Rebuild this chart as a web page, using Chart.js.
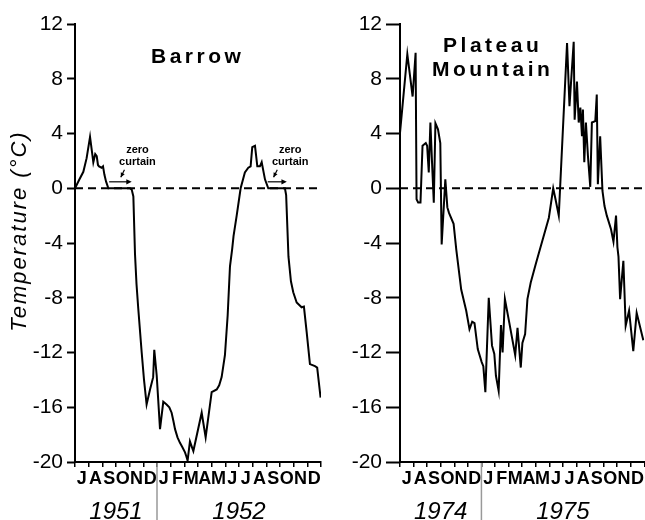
<!DOCTYPE html>
<html>
<head>
<meta charset="utf-8">
<script src="https://cdn.jsdelivr.net/npm/chart.js@4/dist/chart.umd.min.js"></script>
<style>
  body { margin: 0; background: #fff; }
  #wrap { position: relative; width: 645px; height: 520px; }
  .panel { position: absolute; top: 0; height: 520px; }
  #left { left: 0; width: 330px; }
  #right { left: 330px; width: 315px; }
</style>
</head>
<body>
<div id="wrap">
  <div class="panel" id="left"><canvas id="barrow"></canvas></div>
  <div class="panel" id="right"><canvas id="plateau"></canvas></div>
</div>
<script>
// months along the bottom, July of year one to December of year two
const months = ['J','A','S','O','N','D','J','F','M','A','M','J','J','A','S','O','N','D'];
const yTicks = [-20, -16, -12, -8, -4, 0, 4, 8, 12];
const barrowYears = ['1951', '1952'];
const plateauYears = ['1974', '1975'];

// x = months since 1 July of the first year, temperature in °C
const barrowX = [0, 0.3, 0.61, 0.85, 1.1, 1.25, 1.34, 1.48, 1.59, 1.68, 1.76, 1.95, 2.05, 2.15, 2.27, 2.44,
  4.02, 4.15, 4.27, 4.39, 4.5, 4.63, 4.88, 5.05, 5.24, 5.49, 5.72, 5.8, 5.98, 6.22, 6.46, 6.7, 6.9, 7.07,
  7.2, 7.32, 7.5, 7.68, 7.85, 8.05, 8.15, 8.24, 8.41, 8.55, 8.66, 9.27, 9.56, 10.0, 10.37, 10.55, 10.73,
  10.97, 11.17, 11.34, 11.5, 11.6, 11.83, 12.12, 12.43, 12.68, 12.85, 12.97, 13.17, 13.25, 13.34, 13.53,
  13.66, 13.9, 14.14, 15.36, 15.45, 15.62, 15.8, 15.97, 16.22, 16.58, 16.75, 16.95, 17.19, 17.56, 17.72, 17.97];
const barrowT = [0, 0.6, 1.2, 2.2, 3.75, 2.6, 1.9, 2.5, 2.35, 1.7, 1.6, 1.5, 1.6, 1.0, 0.5, 0,
  0, -0.1, -0.6, -4.8, -7, -8.8, -12, -14, -15.8, -14.7, -13.8, -11.8, -13.7, -17.6, -15.6, -15.8, -16.0, -16.4,
  -17.0, -17.6, -18.2, -18.6, -18.9, -19.3, -19.6, -19.9, -18.5, -18.9, -19.2, -16.4, -18.2, -14.9, -14.7, -14.4, -13.8,
  -12.2, -9.3, -5.7, -4.45, -3.5, -2.0, 0, 1.15, 1.5, 1.6, 3.0, 3.1, 2.4, 1.6, 1.6,
  1.9, 0.65, 0, 0, -0.5, -5, -6.8, -7.6, -8.35, -8.7, -8.65, -10.5, -12.85, -13.0, -13.1, -15.3];

const plateauX = [0, 0.54, 0.93, 1.15, 1.22, 1.34, 1.51, 1.66, 1.9, 2.0, 2.12, 2.24, 2.36, 2.49, 2.61, 2.8,
  2.97, 3.07, 3.34, 3.49, 3.61, 3.95, 4.15, 4.51, 4.88, 5.12, 5.32, 5.49, 5.73, 6.02, 6.14, 6.29, 6.54, 6.78,
  6.95, 7.07, 7.27, 7.44, 7.56, 7.73, 8.05, 8.49, 8.66, 8.9, 9.02, 9.22, 9.39, 9.63, 10.0, 10.27, 10.97,
  11.29, 11.46, 11.7, 12.31, 12.49, 12.8, 12.87, 13.04, 13.17, 13.29, 13.41, 13.48, 13.58, 13.7, 13.85,
  14.02, 14.14, 14.39, 14.5, 14.58, 14.75, 14.92, 15.07, 15.24, 15.55, 15.73, 15.92, 16.02, 16.1, 16.22,
  16.46, 16.63, 16.88, 17.19, 17.44, 17.93];
const plateauT = [4.05, 9.8, 6.7, 9.9, -0.8, -1.05, -1.05, 3.1, 3.3, 3.1, 1.15, 4.8, 1.9, -1.05, 4.75, 4.3,
  3.3, -4.1, 0.65, -1.4, -1.8, -2.6, -4.5, -7.4, -8.95, -10.3, -9.75, -9.85, -11.75, -12.7, -13.0, -14.9, -8.0, -11.5,
  -12.1, -13.7, -14.8, -10.0, -12.0, -8.1, -9.8, -12.2, -10.2, -13.1, -11.3, -10.65, -8.1, -6.9, -5.55, -4.6, -2.15,
  0, -0.8, -2.0, 10.6, 6.0, 10.7, 5.0, 7.8, 4.8, 5.9, 3.8, 5.75, 1.9, 4.8, 2.35,
  0.1, 4.8, 4.9, 6.85, 0.3, 3.8, -0.2, -1.3, -2.0, -3.0, -3.9, -2.0, -4.3, -5.0, -8.1,
  -5.3, -10.05, -8.95, -11.9, -9.1, -11.1];

const FONT = '"Liberation Sans", Arial, Helvetica, sans-serif';

function arrowHead(ctx, x0, y0, x1, y1, size) {
  const a = Math.atan2(y1 - y0, x1 - x0);
  ctx.beginPath();
  ctx.moveTo(x1, y1);
  ctx.lineTo(x1 - size * Math.cos(a - 0.45), y1 - size * Math.sin(a - 0.45));
  ctx.lineTo(x1 - size * Math.cos(a + 0.45), y1 - size * Math.sin(a + 0.45));
  ctx.closePath();
  ctx.fill();
}

// panel titles, y title, year divider and the "zero curtain" notes
const notes = {
  id: 'notes',
  afterDraw(chart, args, o) {
    const { ctx, chartArea, scales: { x, y } } = chart;
    ctx.save();

    const sx = x.getPixelForValue(6);
    ctx.strokeStyle = '#999';
    ctx.lineWidth = 1.5;
    ctx.beginPath();
    ctx.moveTo(sx, chartArea.bottom + 1);
    ctx.lineTo(sx, chart.height);
    ctx.stroke();

    ctx.fillStyle = '#000';
    ctx.strokeStyle = '#000';
    ctx.textAlign = 'center';
    ctx.textBaseline = 'middle';
    ctx.font = 'bold 21px ' + FONT;
    ctx.letterSpacing = '3.5px';
    const tx = x.getPixelForValue(o.titleAt[0]) + 1.75;
    const ty = y.getPixelForValue(o.titleAt[1]);
    o.title.forEach((t, i) => ctx.fillText(t, tx, ty + i * 24));
    ctx.letterSpacing = '0px';

    if (o.yTitle) {
      ctx.save();
      ctx.translate(20, 232);
      ctx.rotate(-Math.PI / 2);
      ctx.font = 'italic 22px ' + FONT;
      ctx.letterSpacing = '2px';
      ctx.fillText(o.yTitle, 1, 0);
      ctx.restore();
    }

    (o.curtains || []).forEach(c => {
      const cx = x.getPixelForValue(c.text);
      ctx.font = 'bold 11px ' + FONT;
      ctx.fillText('zero', cx, y.getPixelForValue(2.8));
      ctx.fillText('curtain', cx, y.getPixelForValue(1.9));
      const ay = y.getPixelForValue(0.47);
      const x0 = x.getPixelForValue(c.from), x1 = x.getPixelForValue(c.to);
      ctx.lineWidth = 1.2;
      ctx.beginPath();
      ctx.moveTo(x0, ay);
      ctx.lineTo(x1 - 3, ay);
      ctx.stroke();
      arrowHead(ctx, x0, ay, x1, ay, 6);
      const px0 = x.getPixelForValue(c.text - 0.95), py0 = y.getPixelForValue(1.35);
      const px1 = x.getPixelForValue(c.text - 1.22), py1 = y.getPixelForValue(0.8);
      ctx.beginPath();
      ctx.moveTo(px0, py0);
      ctx.lineTo(px1, py1);
      ctx.stroke();
      arrowHead(ctx, px0, py0, px1, py1, 5);
    });
    ctx.restore();
  }
};

function makePanel(id, xs, temps, years, cfg) {
  const points = xs.map((v, i) => ({ x: v, y: temps[i] }));
  return new Chart(document.getElementById(id), {
    type: 'line',
    data: {
      datasets: [
        { data: points, borderColor: '#000', borderWidth: 2, pointRadius: 0, tension: 0 },
        { data: [{ x: 0, y: 0 }, { x: 18, y: 0 }], borderColor: '#000', borderWidth: 1.8,
          borderDash: [8, 5], pointRadius: 0 }
      ]
    },
    options: {
      responsive: true,
      maintainAspectRatio: false,
      animation: false,
      layout: { padding: { top: 24, right: cfg.padRight, left: 0, bottom: 0 } },
      plugins: {
        legend: { display: false },
        tooltip: { enabled: false },
        notes: cfg.notes
      },
      scales: {
        x: { type: 'linear', min: 0, max: 18, display: false },
        m: {
          type: 'category', labels: months, position: 'bottom', offset: true, weight: 1,
          grid: { offset: true, drawOnChartArea: false, tickLength: 5, color: '#000', lineWidth: 1.5 },
          border: { color: '#000', width: 2 },
          ticks: { color: '#000', font: { family: FONT, size: 18, weight: 'bold' },
                   padding: 1, autoSkip: false, maxRotation: 0 },
          afterFit: s => { s.height = 28; }
        },
        yr: {
          type: 'linear', min: 0, max: 18, position: 'bottom', weight: 2,
          grid: { display: false }, border: { display: false },
          afterBuildTicks: s => { s.ticks = [{ value: 3 }, { value: 12 }]; },
          ticks: { color: '#000', padding: 0, maxRotation: 0,
                   font: { family: FONT, size: 24, style: 'italic' },
                   callback: v => (v < 6 ? years[0] : years[1]) },
          afterFit: s => { s.height = 30; }
        },
        y: {
          min: -20, max: 12,
          afterBuildTicks: s => { s.ticks = yTicks.map(v => ({ value: v })); },
          grid: { drawOnChartArea: false, tickLength: cfg.tickLength, tickWidth: 2, tickColor: '#000' },
          border: { color: '#000', width: 2 },
          ticks: { color: '#000', padding: 4, font: { family: FONT, size: 21 } },
          afterFit: s => { s.width = cfg.axisWidth; }
        }
      }
    },
    plugins: [notes]
  });
}

makePanel('barrow', barrowX, barrowT, barrowYears, {
  padRight: 9, axisWidth: 75, tickLength: 8,
  notes: {
    title: ['Barrow'], titleAt: [8.85, 9.6], yTitle: 'Temperature (°C)',
    curtains: [{ text: 4.57, from: 2.5, to: 4.15 }, { text: 15.75, from: 14.1, to: 15.5 }]
  }
});

makePanel('plateau', plateauX, plateauT, plateauYears, {
  padRight: 0, axisWidth: 70, tickLength: 14,
  notes: { title: ['Plateau', 'Mountain'], titleAt: [6.7, 10.4] }
});
</script>
</body>
</html>
